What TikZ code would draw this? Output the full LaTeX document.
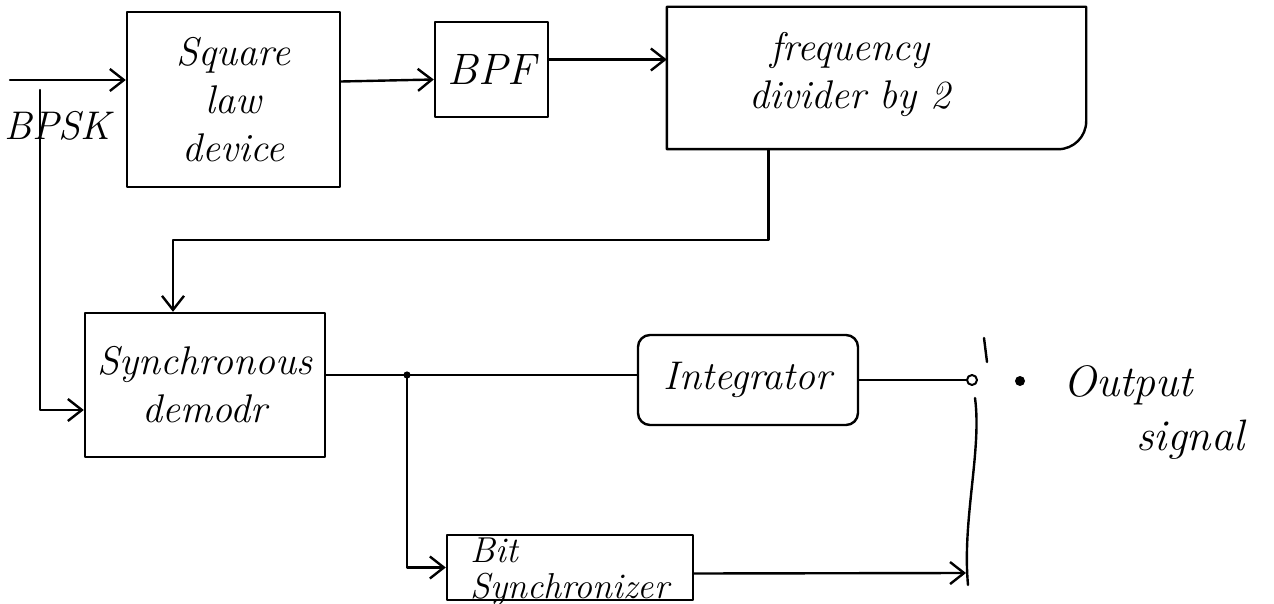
\documentclass[tikz,border=0pt]{standalone}
\usetikzlibrary{arrows.meta}
\begin{document}
\begin{tikzpicture}[x=0.5pt,y=-0.5pt,
  line width=1.2pt, line join=round, line cap=round,
  blk/.style={draw, line width=1.2pt, inner sep=0pt},
  lbl/.style={font=\fontsize{20}{24}\selectfont\itshape, align=center, inner sep=0pt},
  conn/.style={-{Straight Barb[length=7pt,width=11pt]}}
]
\useasboundingbox (0,0) rectangle (1274,604);

% blocks
\node[blk, minimum width=106.5pt, minimum height=87.5pt] (sq) at (233.5,99.5) {};
\node[lbl] (sqT) at (sq.center) {Square\\law\\device};
\node[blk, minimum width=56.5pt, minimum height=47.5pt] (bpf) at (491.5,69.5) {};
\node[lbl, font=\fontsize{22}{24}\selectfont\itshape] (bpfT) at (bpf.center) {BPF};
\node[inner sep=0pt, minimum width=208.5pt, minimum height=70pt] (fd) at (876.5,78) {};
\draw (fd.south west) -- (fd.north west) -- (fd.north east)
      [rounded corners=14pt] -- (fd.south east) -- (fd.south west);
\node[lbl] (fdT) at (850,75) {frequency\\divider by 2};
\node[blk, minimum width=120pt, minimum height=72pt] (dm) at (205,385) {};
\node[lbl] (dmT) at (dm.center) {Synchronous\\demodr};
\node[blk, rounded corners=6pt, minimum width=110pt, minimum height=45pt] (ig) at (748,380) {};
\node[lbl] (igT) at (ig.center) {Integrator};
\node[blk, minimum width=123pt, minimum height=32.5pt] (bs) at (570,567.5) {};
\node[lbl, font=\fontsize{18}{18}\selectfont\itshape, align=left] (bsT) at ([yshift=-2pt]bs.center) {Bit\\Synchronizer};

% input
\coordinate (in) at (10,80);
\draw[conn] (in) -- (sq.west |- in);
\node[lbl] (bpsk) at (58,126) {BPSK};
\coordinate (br) at (40,90);
\coordinate (bend1) at (40,410);
\draw[conn] (br) -- (bend1) -- (bend1 -| dm.west);

% square law -> BPF -> divider
\draw[conn] ([yshift=9pt]sq.east) -- ([yshift=-5pt]bpf.west);
\coordinate (b1) at ([yshift=5pt]bpf.east);
\draw[conn] (b1) -- (b1 -| fd.west);

% divider -> demod
\coordinate (f0) at ([xshift=-54pt]fd.south);
\coordinate (d0) at ([xshift=-16pt]dm.north);
\coordinate (f1) at (f0 |- 0,240);
\draw[conn] (f0) -- (f1) -| (d0);

% demod -> integrator, branch to bit synchronizer
\coordinate (d1) at ([yshift=5pt]dm.east);
\draw (d1) -- (d1 -| ig.west);
\coordinate (j) at (407,375);
\fill (j) circle (1.8pt);
\draw[conn] (j) |- (bs.west);

% switch
\node[circle, draw, line width=1pt, inner sep=0pt, minimum size=5pt] (sw) at (972,380) {};
\draw (ig.east) -- (sw.west);
\node[circle, fill, inner sep=0pt, minimum size=5pt] (od) at (1020,381) {};
\draw (984,338) -- (987,362);
\draw (975,398) .. controls (982,450) and (962,520) .. (968,585);
\coordinate (b2) at ([yshift=-3pt]bs.east);
\coordinate (sctl) at (966,573);
\draw[conn] (b2) -- (sctl);

% output label
\node[lbl, font=\fontsize{22}{24}\selectfont\itshape, anchor=west] (o1) at (1062,385) {Output};
\node[lbl, font=\fontsize{22}{24}\selectfont\itshape, anchor=west] (o2) at (1135,440) {signal};
\end{tikzpicture}
\end{document}
